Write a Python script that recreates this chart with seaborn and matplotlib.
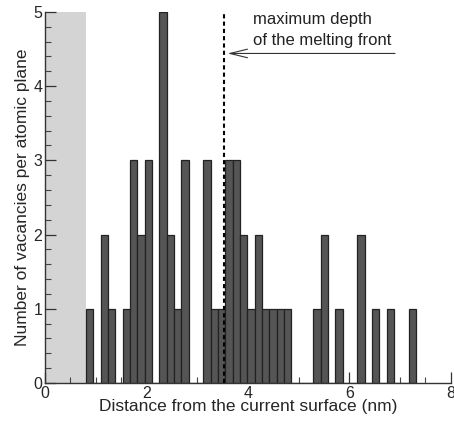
import matplotlib
matplotlib.use("Agg")
import matplotlib.pyplot as plt
import seaborn as sns
import pandas as pd
from matplotlib.ticker import MultipleLocator

# Depth of each atomic plane holding vacancies (nm) and vacancies per plane
plane_depth = [0.882, 1.171, 1.316, 1.605, 1.749, 1.894, 2.038, 2.327, 2.472,
               2.616, 2.761, 3.194, 3.339, 3.483, 3.628, 3.772, 3.917, 4.061,
               4.206, 4.350, 4.495, 4.639, 4.784, 5.362, 5.506, 5.795, 6.229,
               6.518, 6.807, 7.240]
vacancies = [1, 2, 1, 1, 3, 2, 3, 5, 2,
             1, 3, 3, 1, 1, 3, 3, 2, 1,
             2, 1, 1, 1, 1, 1, 2, 1, 2,
             1, 1, 1]
plane_spacing = 0.1445
first_plane_edge = 0.81
last_plane_edge = 7.3125
surface_region = (0.0, 0.8)
melting_front_depth = 3.52
x_ticks = [0, 2, 4, 6, 8]
y_ticks = [0, 1, 2, 3, 4, 5]

df = pd.DataFrame({"depth": plane_depth, "count": vacancies})

sns.set_style("ticks")
plt.rcParams["font.family"] = ["Liberation Sans", "DejaVu Sans"]

fig = plt.figure(figsize=(4.54, 4.25), dpi=100)
ax = fig.add_axes([0.099, 0.099, 0.894, 0.873])

ax.axvspan(*surface_region, color="#d4d4d4", lw=0, zorder=0)

sns.histplot(data=df, x="depth", weights="count", binwidth=plane_spacing,
             binrange=(first_plane_edge, last_plane_edge), color="#555555",
             edgecolor="#222222", linewidth=0.9, alpha=1.0, ax=ax, zorder=2)

ax.axvline(melting_front_depth, color="black", ls=(0, (2, 1.5)), lw=1.5, zorder=3)

ax.annotate("", xy=(3.6, 4.44), xytext=(6.9, 4.44),
            arrowprops=dict(arrowstyle="->,head_length=0.9,head_width=0.22",
                            color="#333333", lw=0.8, mutation_scale=14,
                            shrinkA=0, shrinkB=0))
ax.text(4.1, 4.755, "maximum depth\nof the melting front", fontsize=12,
        ha="left", va="center", linespacing=1.45, color="#222222")

ax.set_xlim(0, 8)
ax.set_ylim(0, 5)
ax.set_xticks(x_ticks)
ax.set_yticks(y_ticks)
ax.xaxis.set_minor_locator(MultipleLocator(0.5))
ax.yaxis.set_minor_locator(MultipleLocator(0.2))
ax.tick_params(which="major", direction="in", length=8, width=0.9,
               labelsize=11.5, color="#333333", pad=2)
ax.tick_params(which="minor", direction="in", length=4, width=0.8,
               color="#444444")
ax.set_xlabel("Distance from the current surface (nm)", fontsize=12.5, labelpad=-1)
ax.set_ylabel("Number of vacancies per atomic plane", fontsize=12.5, labelpad=2)

sns.despine(ax=ax)
for s in ["left", "bottom"]:
    ax.spines[s].set_linewidth(1.0)
    ax.spines[s].set_color("#333333")

fig.savefig("out.png", dpi=100)
